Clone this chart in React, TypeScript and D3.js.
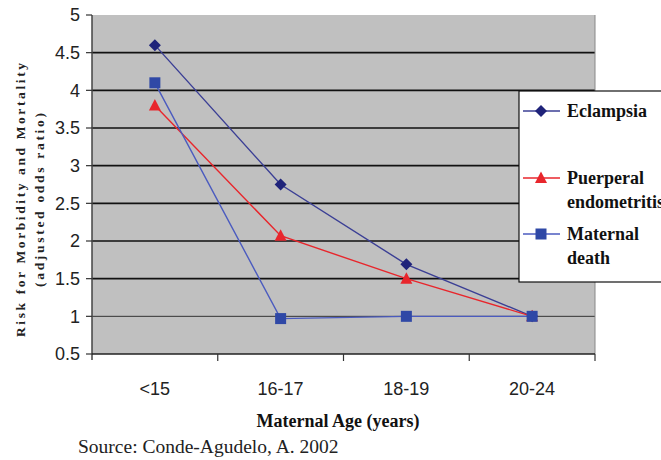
import React from "react";
import * as d3 from "d3";

const categories = ["<15", "16-17", "18-19", "20-24"];
const eclampsia = [4.6, 2.75, 1.69, 1.0];
const puerperal = [3.8, 2.07, 1.5, 1.0];
const maternalDeath = [4.1, 0.97, 1.0, 1.0];
const yTicks = [0.5, 1, 1.5, 2, 2.5, 3, 3.5, 4, 4.5, 5];
const yTickLabels = ["0.5", "1", "1.5", "2", "2.5", "3", "3.5", "4", "4.5", "5"];

const W = 661, H = 460;
const left = 92, right = 595, top = 15, bottom = 354;

export default function App() {
  const x = d3.scaleBand<string>().domain(categories).range([left, right]);
  const y = d3.scaleLinear().domain([0.5, 5]).range([bottom, top]);
  const cx = (c: string) => (x(c) as number) + x.bandwidth() / 2;
  const line = d3.line<number>().x((_, i) => cx(categories[i])).y((v) => y(v));

  const series = [
    { name: "Eclampsia", values: eclampsia, line: "#3b3f95", fill: "#1f237a", shape: "diamond" },
    { name: "Puerperal", values: puerperal, line: "#e8262c", fill: "#e8262c", shape: "triangle" },
    { name: "Maternal", values: maternalDeath, line: "#4b5bbf", fill: "#2f48a6", shape: "square" },
  ];

  const marker = (shape: string, px: number, py: number, fill: string, key: any) => {
    if (shape === "diamond")
      return <path key={key} d={`M${px},${py - 6}L${px + 6},${py}L${px},${py + 6}L${px - 6},${py}Z`} fill={fill} />;
    if (shape === "triangle")
      return <path key={key} d={`M${px},${py - 6.5}L${px + 6},${py + 5}L${px - 6},${py + 5}Z`} fill={fill} />;
    return <rect key={key} x={px - 5.5} y={py - 5.5} width={11} height={11} fill={fill} />;
  };

  const sans = "Liberation Sans, Arial, sans-serif";
  const serif = "Liberation Serif, Times New Roman, serif";

  return (
    <svg width={W} height={H} style={{ position: "absolute", left: 0, top: 0, background: "#fff" }}>
      <rect x={left} y={top} width={right - left} height={bottom - top} fill="#c0c0c0" />
      {yTicks.filter((t) => t > 0.5 && t < 5).map((t) => (
        <line key={t} x1={left} x2={right} y1={y(t)} y2={y(t)}
          stroke={t === 1 ? "#333" : "#111"} strokeWidth={t === 1 ? 1 : 1.6} />
      ))}
      <line x1={right} x2={right} y1={top} y2={bottom} stroke="#888" strokeWidth={1} />
      <line x1={left} x2={left} y1={top} y2={bottom + 6} stroke="#444" strokeWidth={1.5} />
      <line x1={left} x2={right} y1={bottom} y2={bottom} stroke="#222" strokeWidth={1.6} />
      {yTicks.map((t, i) => (
        <g key={t}>
          <line x1={left - 6} x2={left} y1={y(t)} y2={y(t)} stroke="#333" strokeWidth={1.2} />
          <text x={80} y={y(t)} dy="0.36em" textAnchor="end" fontFamily={sans}
            fontSize={18} fill="#222">{yTickLabels[i]}</text>
        </g>
      ))}
      {categories.map((c) => (
        <g key={c}>
          <line x1={(x(c) as number) + x.bandwidth()} x2={(x(c) as number) + x.bandwidth()} y1={bottom} y2={bottom + 7}
            stroke="#333" strokeWidth={1.2} />
          <text x={cx(c)} y={395} textAnchor="middle" fontFamily={sans}
            fontSize={18} fill="#222">{c}</text>
        </g>
      ))}
      {series.map((s) => (
        <g key={s.name}>
          <path d={line(s.values) as string} fill="none" stroke={s.line} strokeWidth={1.4} />
          {s.values.map((v, i) => marker(s.shape, cx(categories[i]), y(v), s.fill, i))}
        </g>
      ))}
      <g transform="translate(25,200) rotate(-90)">
        <text x={0} y={0} textAnchor="middle" fontFamily={serif} fontWeight="bold"
          fontSize={13.5} fill="#222" textLength={274} lengthAdjust="spacing">Risk for Morbidity and Mortality</text>
        <text x={0} y={19} textAnchor="middle" fontFamily={serif} fontWeight="bold"
          fontSize={13.5} fill="#222" textLength={174} lengthAdjust="spacing">(adjusted odds ratio)</text>
      </g>
      <text x={338} y={427} textAnchor="middle" fontFamily={serif} fontWeight="bold"
        fontSize={18} fill="#111">Maternal Age (years)</text>
      <text x={78} y={453} fontFamily={serif} fontSize={19.5} fill="#222">
        Source: Conde-Agudelo, A. 2002</text>
      <g>
        <rect x={519} y={91} width={170} height={191} fill="#fff" stroke="#111" strokeWidth={1.2} />
        {[
          { s: series[0], ly: 111, lines: ["Eclampsia"] },
          { s: series[1], ly: 178, lines: ["Puerperal", "endometritis"] },
          { s: series[2], ly: 234, lines: ["Maternal", "death"] },
        ].map((e, k) => (
          <g key={k}>
            <line x1={523} x2={560} y1={e.ly} y2={e.ly} stroke={e.s.line} strokeWidth={1.4} />
            {marker(e.s.shape, 541, e.ly, e.s.fill, "m")}
            {e.lines.map((t, j) => (
              <text key={j} x={567} y={e.ly + j * 24} dy="0.35em" fontFamily={serif}
                fontWeight="bold" fontSize={18} fill="#111">{t}</text>
            ))}
          </g>
        ))}
      </g>
    </svg>
  );
}
